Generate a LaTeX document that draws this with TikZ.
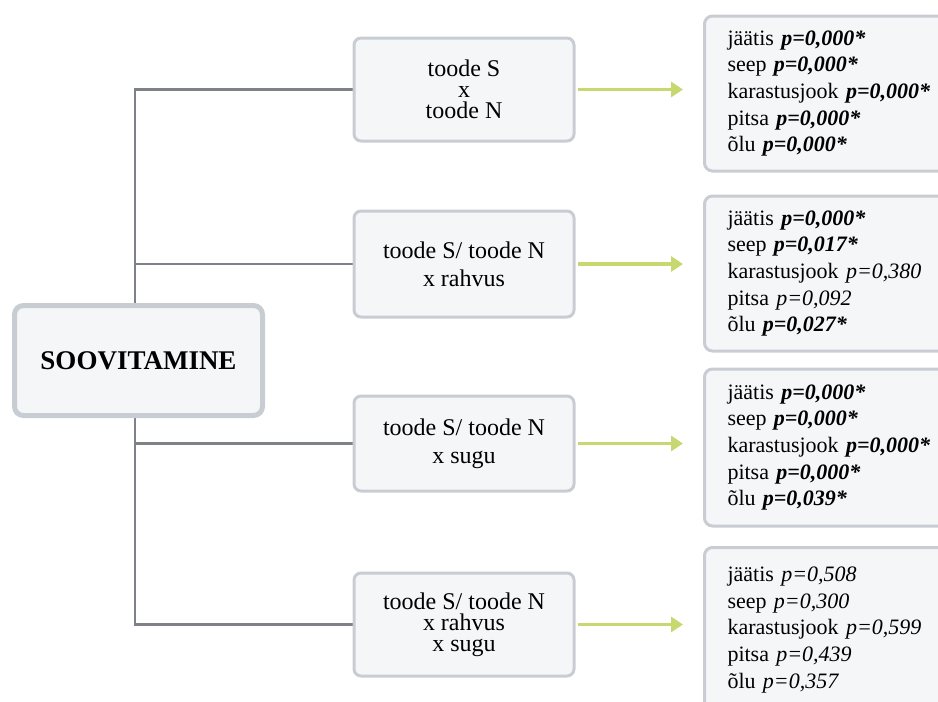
\documentclass[tikz,border=0pt]{standalone}
\usepackage{fontspec}
\setmainfont{Liberation Serif}
\usetikzlibrary{arrows.meta,backgrounds}
\definecolor{boxfill}{HTML}{F5F6F8}
\definecolor{boxline}{HTML}{C8CCD3}
\definecolor{conn}{HTML}{7E8288}
\definecolor{grn}{HTML}{C6D870}
\tikzset{
  rootbox/.style={draw=boxline,line width=5pt,fill=boxfill,rounded corners=9pt,minimum width=248pt,minimum height=110pt,font=\fontsize{27}{30}\selectfont\bfseries},
  midbox/.style={draw=boxline,line width=3pt,fill=boxfill,rounded corners=7pt,minimum width=220pt,align=center},
  resbox/.style={draw=boxline,line width=3pt,fill=boxfill,rounded corners=8pt,align=left,text width=222pt,inner xsep=23pt,font=\fontsize{22}{26.6}\selectfont},
  tight/.style={font=\fontsize{24}{21}\selectfont},
  loose/.style={font=\fontsize{24}{28}\selectfont},
  link/.style={draw=conn,line width=2.5pt},
  res/.style={draw=grn,line width=3.5pt,-{Triangle[length=12pt,width=15pt]},shorten <=2pt,shorten >=20pt}
}
\newcommand{\sig}[1]{\textbf{\textit{p=#1*}}}
\newcommand{\nsig}[1]{\textit{p=#1}}
\begin{document}
\begin{tikzpicture}[x=1pt,y=-1pt]
\useasboundingbox (0,0) rectangle (938,702);
\node[rootbox] (root) at (138.5,360.5) {SOOVITAMINE};
\node[midbox,tight,minimum height=103pt] (b1) at (464,89.5) {toode S\\x\\toode N};
\node[midbox,loose,minimum height=106pt] (b2) at (464,264) {toode S/ toode N\\x rahvus};
\node[midbox,loose,minimum height=95pt] (b3) at (464,443.5) {toode S/ toode N\\x sugu};
\node[midbox,tight,minimum height=103pt] (b4) at (464,624.5) {toode S/ toode N\\x rahvus\\x sugu};
\node[resbox,anchor=west,minimum height=155pt] (r1) at (703,93.5) {j\"a\"atis \sig{0,000}\\seep \sig{0,000}\\karastusjook \sig{0,000}\\pitsa \sig{0,000}\\\~olu \sig{0,000}};
\node[resbox,anchor=west,minimum height=155pt] (r2) at (703,273.5) {j\"a\"atis \sig{0,000}\\seep \sig{0,017}\\karastusjook \nsig{0,380}\\pitsa \nsig{0,092}\\\~olu \sig{0,027}};
\node[resbox,anchor=west,minimum height=157pt] (r3) at (703,447.5) {j\"a\"atis \sig{0,000}\\seep \sig{0,000}\\karastusjook \sig{0,000}\\pitsa \sig{0,000}\\\~olu \sig{0,039}};
\node[resbox,anchor=west,minimum height=165pt] (r4) at (703,630) {j\"a\"atis \nsig{0,508}\\seep \nsig{0,300}\\karastusjook \nsig{0,599}\\pitsa \nsig{0,439}\\\~olu \nsig{0,357}};
\coordinate (j1) at (135,0 |- b1.west);
\coordinate (j2) at (135,0 |- b2.west);
\coordinate (j3) at (135,0 |- b3.west);
\coordinate (j4) at (135,0 |- b4.west);
\begin{scope}[on background layer]
\draw[link] (b1.west) -- (j1) -- (j4) -- (b4.west);
\draw[link] (j2) -- (b2.west);
\draw[link] (j3) -- (b3.west);
\end{scope}
\foreach \i in {1,2,3,4} {
  \draw[res] (b\i.east) -- (b\i.east -| r\i.west);
}
\end{tikzpicture}
\end{document}
